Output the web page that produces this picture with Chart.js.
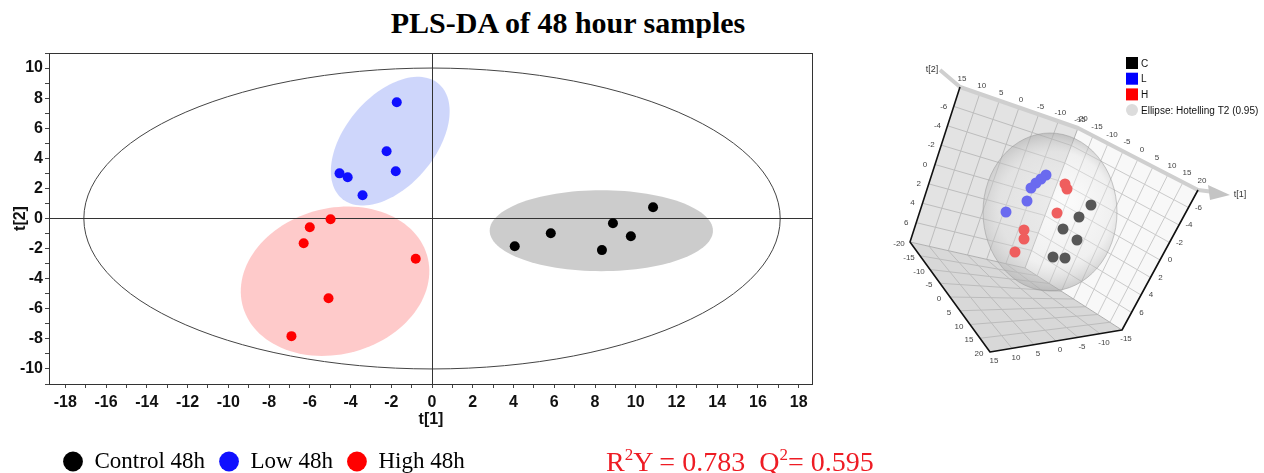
<!DOCTYPE html>
<html lang="en">
<head>
<meta charset="UTF-8" />
<title>PLS-DA of 48 hour samples</title>
<script src="https://cdn.jsdelivr.net/npm/chart.js"></script>
<style>
    body { margin: 0; background: #fff; }
    .page { position: relative; width: 1264px; height: 473px; overflow: hidden; }
    #mainChart { position: absolute; left: 0; top: 0; }
    #insetChart { position: absolute; left: 880px; top: 40px; }
    .titulo {
        position: absolute; left: 0; top: 8px; width: 1136px; height: 30px; overflow: hidden;
        text-align: center; font: bold 30px/30px "Liberation Serif", "Times New Roman", serif; color: #000;
    }
    .stats {
        position: absolute; left: 606px; top: 448px; white-space: pre;
        font: 28px/28px "Liberation Serif", "Times New Roman", serif; color: #ee1c24;
    }
    .stats span { font-size: 17px; position: relative; top: -11px; }
</style>
</head>
<body>
<div class="page">
    <div class="titulo">PLS-DA of 48 hour samples</div>
    <canvas id="mainChart" width="860" height="473"></canvas>
    <canvas id="insetChart" width="384" height="340"></canvas>
    <div class="stats">R<span>2</span>Y = 0.783  Q<span>2</span>= 0.595</div>
</div>

<script>
// scores t[1] / t[2] per group
const groupNames = ['Control 48h', 'Low 48h', 'High 48h'];
const controlT1 = [10.85, 8.88, 9.76, 5.83, 4.06, 8.34];
const controlT2 = [0.75, -0.31, -1.18, -0.98, -1.84, -2.10];
const lowT1 = [-1.73, -2.23, -1.78, -4.54, -4.14, -3.41];
const lowT2 = [7.73, 4.47, 3.14, 3.00, 2.74, 1.55];
const highT1 = [-4.98, -6.00, -6.30, -0.80, -5.08, -6.90];
const highT2 = [-0.05, -0.58, -1.64, -2.68, -5.30, -7.82];

// group ellipses (data units) + Hotelling T2 ellipse
const ellipseCx = [8.31, -2.05, -4.76];
const ellipseCy = [-0.81, 5.14, -4.17];
const ellipseRx = [5.48, 4.58, 5.15];
const ellipseRy = [2.69, 2.41, 4.42];
const ellipseDeg = [0, 65.1, 58.8];
const hotellingRx = 17.09;
const hotellingRy = 10.0;

// 3D inset: projected positions of the scores (inset units)
const insetNames = ['C', 'L', 'H'];
const insetCx = [211, 199, 183, 197, 173, 185];
const insetCy = [165, 177, 189, 200, 217, 218];
const insetLx = [166, 161, 156, 151, 147, 126];
const insetLy = [135, 139, 143, 148, 161, 172];
const insetHx = [185, 187, 177, 144, 144, 135];
const insetHy = [144, 149, 173, 190, 199, 212];
const insetT1Labels = ['15', '10', '5', '0', '-5', '-10', '-15'];
const insetT3Labels = ['-20', '-15', '-10', '-5', '0', '5', '10', '15', '20'];
const insetT2Values = [-6, -4, -2, 0, 2, 4, 6];

const groupColors = ['#000000', '#1010ff', '#ff0000'];
const ellipseFills = ['rgba(0,0,0,0.2)', 'rgba(60,90,240,0.25)', 'rgba(250,60,60,0.27)'];
const insetColors = ['#575757', '#6a6aef', '#ef5e5e'];
const insetLegendColors = ['#000000', '#0000ff', '#ff0000'];

// box of the 3D view (inset units)
const frame = { A: [80, 47], K: [198, 88], B: [318, 150], E: [242, 290], D: [110, 312], C: [30, 202], I: [145, 228] };

Chart.defaults.font.family = '"Liberation Sans", Arial, sans-serif';

const groupT1 = [controlT1, lowT1, highT1];
const groupT2 = [controlT2, lowT2, highT2];

function tracarElipse(ctx, x, y, cx, cy, rx, ry, deg) {
    const a = deg * Math.PI / 180;
    ctx.beginPath();
    for (let k = 0; k <= 120; k++) {
        const t = k / 120 * 2 * Math.PI;
        const ex = cx + rx * Math.cos(t) * Math.cos(a) - ry * Math.sin(t) * Math.sin(a);
        const ey = cy + rx * Math.cos(t) * Math.sin(a) + ry * Math.sin(t) * Math.cos(a);
        const px = x.getPixelForValue(ex), py = y.getPixelForValue(ey);
        if (k === 0) ctx.moveTo(px, py); else ctx.lineTo(px, py);
    }
    ctx.closePath();
}

const ellipsePlugin = {
    id: 'ellipses',
    beforeDraw(chart) {
        const { ctx, scales: { x, y } } = chart;
        ctx.save();
        for (let g = 0; g < 3; g++) {
            tracarElipse(ctx, x, y, ellipseCx[g], ellipseCy[g], ellipseRx[g], ellipseRy[g], ellipseDeg[g]);
            ctx.fillStyle = ellipseFills[g];
            ctx.fill();
        }
        tracarElipse(ctx, x, y, 0, 0, hotellingRx, hotellingRy, 0);
        ctx.strokeStyle = '#444';
        ctx.lineWidth = 1;
        ctx.stroke();
        ctx.restore();
    },
    afterDraw(chart) {
        const { ctx, chartArea: a } = chart;
        ctx.save();
        ctx.strokeStyle = '#333';
        ctx.lineWidth = 1;
        ctx.strokeRect(Math.round(a.left) + 0.5, Math.round(a.top) + 0.5, Math.round(a.width) - 1, Math.round(a.height));
        ctx.restore();
    }
};

const tickFont = { family: '"Liberation Sans", Arial, sans-serif', weight: 'bold', size: 16 };

new Chart(document.getElementById('mainChart'), {
    type: 'scatter',
    data: {
        datasets: groupNames.map((name, g) => ({
            label: name,
            data: groupT1[g].map((v, i) => ({ x: v, y: groupT2[g][i] })),
            backgroundColor: groupColors[g],
            borderColor: groupColors[g],
            borderWidth: 0,
            pointRadius: 5
        }))
    },
    options: {
        responsive: false,
        animation: false,
        layout: { autoPadding: false, padding: { left: 0, top: 53, right: 47, bottom: 0 } },
        plugins: {
            legend: {
                position: 'bottom',
                align: 'start',
                fullSize: false,
                maxHeight: 37,
                labels: {
                    usePointStyle: true,
                    pointStyle: 'circle',
                    boxWidth: 20,
                    boxHeight: 14,
                    padding: 14,
                    color: '#000',
                    font: { family: '"Liberation Serif", "Times New Roman", serif', size: 23 }
                }
            },
            tooltip: { enabled: false }
        },
        scales: {
            x: {
                type: 'linear',
                min: -18.8,
                max: 18.7,
                afterFit: s => { s.height = 52; },
                border: { display: false },
                grid: {
                    color: c => (c.tick && c.tick.value === 0) ? '#333' : 'rgba(0,0,0,0)',
                    tickColor: '#444',
                    tickLength: 4
                },
                ticks: {
                    stepSize: 1, includeBounds: false, autoSkip: false, maxRotation: 0,
                    padding: 5, color: '#111', font: tickFont,
                    callback: v => (v % 2 === 0 ? v : '')
                },
                title: { display: true, text: 't[1]', color: '#111', font: tickFont, padding: { top: 0, bottom: 7 } }
            },
            y: {
                type: 'linear',
                min: -11,
                max: 11,
                afterFit: s => { s.width = 49; },
                border: { display: false },
                grid: {
                    color: c => (c.tick && c.tick.value === 0) ? '#333' : 'rgba(0,0,0,0)',
                    tickColor: '#444',
                    tickLength: 4
                },
                ticks: {
                    stepSize: 1, includeBounds: false, autoSkip: false,
                    padding: 2, color: '#111', font: tickFont,
                    callback: v => (v % 2 === 0 ? v : '')
                },
                title: { display: true, text: 't[2]', color: '#111', font: tickFont, padding: { top: 11, bottom: 0 } }
            }
        }
    },
    plugins: [ellipsePlugin]
});

// ---------- 3D inset ----------
const frame3dPlugin = {
    id: 'frame3d',
    beforeDatasetsDraw(chart) {
        const { ctx, scales: { x, y } } = chart;
        const P = p => [x.getPixelForValue(p[0]), y.getPixelForValue(p[1])];
        const lerp = (a, b, t) => [a[0] + (b[0] - a[0]) * t, a[1] + (b[1] - a[1]) * t];
        const { A, K, B, E, D, C, I } = frame;

        function poly(pts, fill) {
            ctx.beginPath();
            pts.map(P).forEach((q, i) => (i ? ctx.lineTo(q[0], q[1]) : ctx.moveTo(q[0], q[1])));
            ctx.closePath();
            ctx.fillStyle = fill;
            ctx.fill();
        }
        function line(p, q) {
            const a = P(p), b = P(q);
            ctx.beginPath(); ctx.moveTo(a[0], a[1]); ctx.lineTo(b[0], b[1]); ctx.stroke();
        }
        function grade(p00, p10, p01, p11, nu, nv, color) {
            ctx.strokeStyle = color;
            ctx.lineWidth = 1;
            for (let i = 1; i < nu; i++) line(lerp(p00, p10, i / nu), lerp(p01, p11, i / nu));
            for (let j = 1; j < nv; j++) line(lerp(p00, p01, j / nv), lerp(p10, p11, j / nv));
        }
        function rotulos(p, q, labels, fracs, dx, dy) {
            ctx.fillStyle = '#444';
            ctx.font = '8px "Liberation Sans", Arial, sans-serif';
            ctx.textAlign = 'center';
            ctx.textBaseline = 'middle';
            labels.forEach((t, k) => {
                const s = P(lerp(p, q, fracs[k]));
                ctx.fillText(t, s[0] + dx, s[1] + dy);
            });
        }

        ctx.save();
        poly([A, K, I, C], '#e3e3e3');
        poly([K, B, E, I], '#f8f8f8');
        poly([C, I, E, D], '#d8d8d8');
        grade(A, K, C, I, 6, 8, '#bdbdbd');
        grade(K, B, I, E, 8, 8, '#cacaca');
        grade(C, I, D, E, 6, 8, '#bcbcbc');
        ctx.strokeStyle = '#b0b0b0';
        line(K, I); line(C, I); line(I, E);

        // top bar with arrow
        ctx.strokeStyle = '#cfcfcf';
        ctx.lineWidth = 4;
        ctx.lineJoin = 'round';
        ctx.beginPath();
        [[60, 30], A, K, B, [334, 152]].map(P).forEach((q, i) => (i ? ctx.lineTo(q[0], q[1]) : ctx.moveTo(q[0], q[1])));
        ctx.stroke();
        ctx.fillStyle = '#c4c4c4';
        ctx.beginPath();
        [[350, 155], [328, 145], [330, 160]].map(P).forEach((q, i) => (i ? ctx.lineTo(q[0], q[1]) : ctx.moveTo(q[0], q[1])));
        ctx.closePath();
        ctx.fill();

        // dark edges
        ctx.strokeStyle = '#111';
        ctx.lineWidth = 1.6;
        ctx.beginPath();
        [A, C, D, E, B].map(P).forEach((q, i) => (i ? ctx.lineTo(q[0], q[1]) : ctx.moveTo(q[0], q[1])));
        ctx.stroke();

        // tick labels
        const f6 = insetT1Labels.map((_, k) => k / 6);
        const f8 = insetT3Labels.map((_, k) => k / 8);
        const fT2 = insetT2Values.map(v => (v + 8) / 16);
        const t2Text = insetT2Values.map(String);
        rotulos(A, K, insetT1Labels, f6, 2, -8);
        rotulos(D, E, insetT1Labels, f6, 4, 9);
        rotulos(K, B, insetT3Labels, f8, 4, -9);
        rotulos(C, D, insetT3Labels, f8, -11, 2);
        rotulos(A, C, t2Text, fT2, -10, 0);
        rotulos(B, E, t2Text, fT2, 10, 0);
        ctx.font = '9px "Liberation Sans", Arial, sans-serif';
        ctx.fillStyle = '#333';
        let s = P([52, 30]); ctx.fillText('t[2]', s[0], s[1]);
        s = P([360, 155]); ctx.fillText('t[1]', s[0], s[1]);

        // Hotelling T2 sphere
        const c = P([170, 172]);
        const rx = x.getPixelForValue(237) - c[0];
        const ry = y.getPixelForValue(251) - c[1];
        const g = ctx.createRadialGradient(c[0] + 18, c[1] - 12, 4, c[0], c[1], Math.max(rx, ry));
        g.addColorStop(0, 'rgba(255,255,255,0.35)');
        g.addColorStop(0.7, 'rgba(225,225,225,0.35)');
        g.addColorStop(1, 'rgba(165,165,165,0.55)');
        ctx.beginPath();
        ctx.ellipse(c[0], c[1], rx, ry, 0, 0, 2 * Math.PI);
        ctx.fillStyle = g;
        ctx.fill();
        ctx.strokeStyle = 'rgba(150,150,150,0.5)';
        ctx.lineWidth = 1;
        ctx.stroke();
        ctx.restore();
    },
    afterDraw(chart) {
        const { ctx, scales: { x, y } } = chart;
        ctx.save();
        ctx.font = '10px "Liberation Sans", Arial, sans-serif';
        ctx.textAlign = 'left';
        ctx.textBaseline = 'middle';
        const items = insetNames.concat(['Ellipse: Hotelling T2 (0.95)']);
        items.forEach((t, k) => {
            const px = x.getPixelForValue(252), py = y.getPixelForValue(23 + k * 15.7);
            if (k < 3) {
                ctx.fillStyle = insetLegendColors[k];
                ctx.fillRect(px - 6, py - 6, 12, 12);
            } else {
                ctx.fillStyle = '#dcdcdc';
                ctx.beginPath(); ctx.arc(px, py, 6, 0, 2 * Math.PI); ctx.fill();
            }
            ctx.fillStyle = '#111';
            ctx.fillText(t, px + 9, py + 1);
        });
        ctx.restore();
    }
};

const insetX = [insetCx, insetLx, insetHx];
const insetY = [insetCy, insetLy, insetHy];

new Chart(document.getElementById('insetChart'), {
    type: 'scatter',
    data: {
        datasets: insetNames.map((name, g) => ({
            label: name,
            data: insetX[g].map((v, i) => ({ x: v, y: insetY[g][i] })),
            backgroundColor: insetColors[g],
            borderWidth: 0,
            pointRadius: 5.5
        }))
    },
    options: {
        responsive: false,
        animation: false,
        layout: { autoPadding: false, padding: 0 },
        plugins: { legend: { display: false }, tooltip: { enabled: false } },
        scales: {
            x: { type: 'linear', min: 0, max: 384, display: false },
            y: { type: 'linear', min: 0, max: 340, reverse: true, display: false }
        }
    },
    plugins: [frame3dPlugin]
});
</script>
</body>
</html>
